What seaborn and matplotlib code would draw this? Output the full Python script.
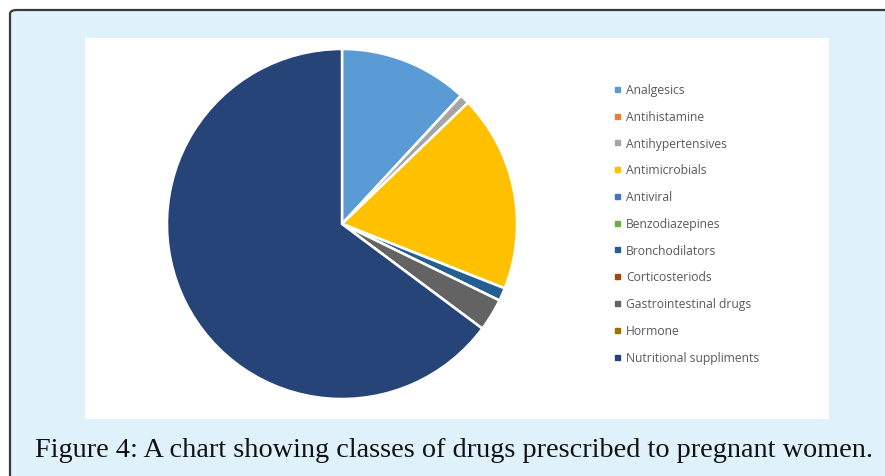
import matplotlib
matplotlib.use("Agg")
import matplotlib.pyplot as plt
from matplotlib.patches import FancyBboxPatch, Rectangle
from matplotlib.lines import Line2D
import seaborn as sns

# Share of prescriptions by drug class (%)
drug_classes = [
    "Analgesics", "Antihistamine", "Antihypertensives", "Antimicrobials",
    "Antiviral", "Benzodiazepines", "Bronchodilators", "Corticosteriods",
    "Gastrointestinal drugs", "Hormone", "Nutritional suppliments",
]
shares = [11.9, 0.0, 0.9, 18.2, 0.0, 0.0, 1.2, 0.0, 3.0, 0.0, 64.8]
slice_colors = [
    "#5B9BD5", "#ED7D31", "#A5A5A5", "#FFC000", "#4472C4", "#70AD47",
    "#255E91", "#9E480E", "#636363", "#997300", "#264478",
]
caption = "Figure 4: A chart showing classes of drugs prescribed to pregnant women."

sns.set_theme(style="white")
palette = sns.color_palette(slice_colors)

W, H = 885, 477
fig = plt.figure(figsize=(W / 100, H / 100), dpi=100)
fig.patch.set_facecolor("white")


def fx(px):
    return px / W


def fy(py):
    return 1 - py / H


# outer light-blue frame, running off the right and bottom edges
frame = FancyBboxPatch((fx(10), fy(H + 20)), fx(W + 40 - 10), (H + 20 - 11) / H,
                       boxstyle="round,pad=0,rounding_size=0.008",
                       transform=fig.transFigure, facecolor="#DFF1FB",
                       edgecolor="#3A3A3A", linewidth=1.6, zorder=-3)
fig.patches.append(frame)

# white chart area
panel = Rectangle((fx(85), fy(420)), fx(829 - 85), (420 - 39) / H,
                  transform=fig.transFigure, facecolor="white",
                  edgecolor="none", zorder=-2)
fig.patches.append(panel)

# pie axes: centre (342, 225), radius 175 px
cx, cy, r = 342, 225, 175
ax = fig.add_axes([fx(cx - r), fy(cy + r), 2 * r / W, 2 * r / H])
ax.set_facecolor("none")
wedges, _ = ax.pie(shares, colors=palette, startangle=90, counterclock=False,
                   wedgeprops=dict(edgecolor="white", linewidth=1.8))
ax.set_xlim(-1, 1)
ax.set_ylim(-1, 1)
ax.set_aspect("equal")
ax.axis("off")

# legend
handles = [Line2D([], [], marker="s", linestyle="", markersize=3.6,
                  markerfacecolor=c, markeredgecolor=c) for c in palette]
leg = fig.legend(handles, drug_classes, loc="upper left",
                 bbox_to_anchor=(fx(613), fy(84)), frameon=False,
                 handlelength=0.6, handletextpad=0.5, labelspacing=1.14,
                 borderpad=0, borderaxespad=0,
                 prop=dict(family="Open Sans", size=8.7))
for t in leg.get_texts():
    t.set_color("#595959")

fig.text(fx(454), fy(451), caption, ha="center", va="center",
         family="Liberation Serif", fontsize=20.3, color="#111111")

fig.savefig("out.png", dpi=100, facecolor=fig.get_facecolor())
